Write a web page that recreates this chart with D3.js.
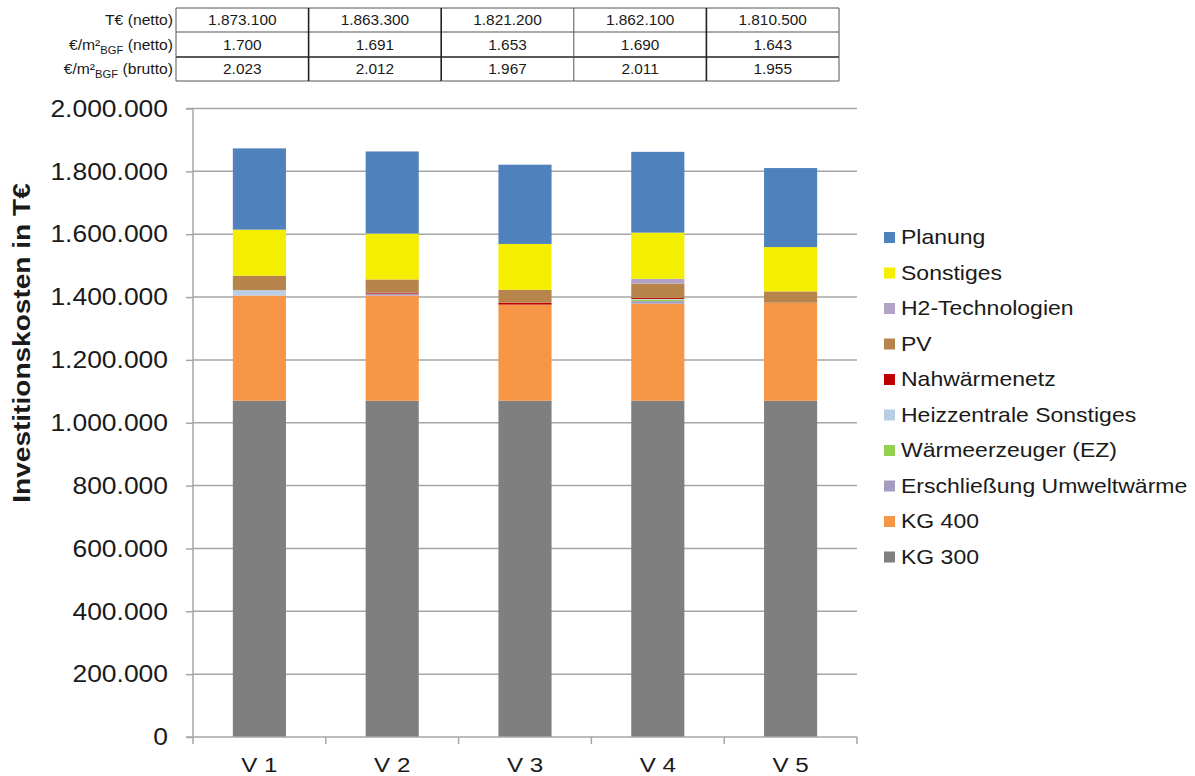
<!DOCTYPE html>
<html>
<head>
<meta charset="utf-8">
<script src="https://cdn.jsdelivr.net/npm/d3@7"></script>
<style>
  html, body { margin: 0; padding: 0; background: #fff; }
  svg { display: block; font-family: "Liberation Sans", Arial, sans-serif; }
</style>
</head>
<body>
<svg id="chart" width="1195" height="776"></svg>
<script>
// Variants
const categories = ["V 1", "V 2", "V 3", "V 4", "V 5"];

// Investment cost components in T€ (stacked bottom to top)
const kg300          = [1070000, 1070000, 1070000, 1070000, 1070000];
const kg400          = [ 335000,  335000,  306000,  309000,  312000];
const erschliessung  = [      0,    6000,       0,    8000,       0];
const waermeerzeuger = [      0,       0,       0,    5000,       0];
const heizzentrale   = [  17000,       0,       0,    2000,       0];
const nahwaermenetz  = [      0,    3000,    6000,    3000,       0];
const pv             = [  46000,   42000,   41000,   46000,   36000];
const h2             = [      0,       0,       0,   15000,       0];
const sonstiges      = [ 146500,  146000,  146000,  147000,  141000];
const planung        = [ 258600,  261300,  252200,  257100,  251500];

// Summary table rows
const rowLabels = ["T€ (netto)", "€/m²BGF (netto)", "€/m²BGF (brutto)"];
const totalNetto = ["1.873.100", "1.863.300", "1.821.200", "1.862.100", "1.810.500"];
const perM2Netto = ["1.700", "1.691", "1.653", "1.690", "1.643"];
const perM2Brutto = ["2.023", "2.012", "1.967", "2.011", "1.955"];

const yTicks = [0, 200000, 400000, 600000, 800000, 1000000, 1200000, 1400000, 1600000, 1800000, 2000000];

const series = [
  { name: "KG 300", values: kg300, color: "#7f7f7f" },
  { name: "KG 400", values: kg400, color: "#f79646" },
  { name: "Erschließung Umweltwärme", values: erschliessung, color: "#a69cc2" },
  { name: "Wärmeerzeuger (EZ)", values: waermeerzeuger, color: "#92d050" },
  { name: "Heizzentrale Sonstiges", values: heizzentrale, color: "#b9cde5" },
  { name: "Nahwärmenetz", values: nahwaermenetz, color: "#c00000" },
  { name: "PV", values: pv, color: "#b7844b" },
  { name: "H2-Technologien", values: h2, color: "#b3a2c7" },
  { name: "Sonstiges", values: sonstiges, color: "#f4ef00" },
  { name: "Planung", values: planung, color: "#4f81bd" }
];

const svg = d3.select("#chart");
const locale = d3.formatLocale({ decimal: ",", thousands: ".", grouping: [3], currency: ["", "€"] });
const fmt = locale.format(",d");

const plot = { left: 193, right: 857, top: 108.5, bottom: 737 };

const x = d3.scaleBand().domain(categories).range([plot.left, plot.right]).paddingInner(0.6).paddingOuter(0.3);
const y = d3.scaleLinear().domain([0, 2000000]).range([plot.bottom, plot.top]);

// Gridlines
svg.append("g").selectAll("line").data(yTicks.filter(d => d > 0)).join("line")
  .attr("x1", plot.left).attr("x2", plot.right)
  .attr("y1", d => y(d)).attr("y2", d => y(d))
  .attr("stroke", "#a6a6a6").attr("stroke-width", 1.5);

// Stacked bars
const table = categories.map((c, i) => {
  const row = { cat: c };
  series.forEach(s => row[s.name] = s.values[i]);
  return row;
});
const stack = d3.stack().keys(series.map(s => s.name));
const stacked = stack(table);

svg.append("g").selectAll("g").data(stacked).join("g")
  .attr("fill", (d, i) => series[i].color)
  .selectAll("rect").data(d => d).join("rect")
  .attr("x", d => x(d.data.cat))
  .attr("width", x.bandwidth())
  .attr("y", d => y(d[1]))
  .attr("height", d => Math.max(0, y(d[0]) - y(d[1])));

// Y axis
const yAxis = d3.axisLeft(y).tickValues(yTicks).tickSize(7).tickFormat(() => "");
const gy = svg.append("g").attr("transform", `translate(${plot.left},0)`).call(yAxis);
gy.select(".domain").attr("stroke", "#a6a6a6").attr("stroke-width", 1.5).attr("d", `M-7,${plot.top}H0V${plot.bottom}`);
gy.selectAll(".tick line").attr("stroke", "#a6a6a6").attr("stroke-width", 1.5);

svg.append("g").selectAll("text").data(yTicks).join("text")
  .attr("transform", d => `translate(168,${y(d)}) scale(1.15,1)`)
  .attr("text-anchor", "end").attr("dy", "0.36em")
  .attr("font-size", 23).attr("fill", "#1a1a1a")
  .text(d => fmt(d));

// X axis
const xAxis = d3.axisBottom(x).tickSize(0).tickFormat(() => "");
const gx = svg.append("g").attr("transform", `translate(0,${plot.bottom})`).call(xAxis);
gx.select(".domain").attr("stroke", "#a6a6a6").attr("stroke-width", 1.5).attr("d", `M${plot.left - 7},0H${plot.right}`);
const step = x.step();
const bounds = d3.range(categories.length + 1).map(i => plot.left + i * step);
svg.append("g").selectAll("line").data(bounds).join("line")
  .attr("x1", d => d).attr("x2", d => d)
  .attr("y1", plot.bottom).attr("y2", plot.bottom + 7)
  .attr("stroke", "#a6a6a6").attr("stroke-width", 1.5);

svg.append("g").selectAll("text").data(categories).join("text")
  .attr("transform", d => `translate(${x(d) + x.bandwidth() / 2},765) scale(1.15,1)`)
  .attr("text-anchor", "middle").attr("dy", "0.35em")
  .attr("font-size", 21).attr("fill", "#1a1a1a")
  .text(d => d);

// Y axis title
svg.append("text")
  .attr("transform", "translate(30,343) rotate(-90) scale(1.22,1)")
  .attr("text-anchor", "middle")
  .attr("font-size", 23).attr("font-weight", "bold").attr("fill", "#1a1a1a")
  .text("Investitionskosten  in T€");

// Legend (top to bottom: reverse stack order)
const legendItems = series.slice().reverse();
const lg = svg.append("g").selectAll("g").data(legendItems).join("g")
  .attr("transform", (d, i) => `translate(884,${237 + i * 35.5})`);
lg.append("rect").attr("x", 0).attr("y", -5).attr("width", 11).attr("height", 11).attr("fill", d => d.color);
lg.append("text").attr("transform", "translate(17,0) scale(1.15,1)")
  .attr("dy", "0.36em").attr("font-size", 20).attr("fill", "#1a1a1a")
  .text(d => d.name);

// Summary table above the chart
const tbl = { left: 176, colW: 132.6, rowY: [8, 32, 57, 81] };
const tg = svg.append("g");
const tableRows = [totalNetto, perM2Netto, perM2Brutto];
// horizontal lines
tg.selectAll("line.h").data(tbl.rowY).join("line").attr("class", "h")
  .attr("x1", tbl.left).attr("x2", tbl.left + 5 * tbl.colW)
  .attr("y1", d => d).attr("y2", d => d)
  .attr("stroke", (d, i) => i === 2 ? "#222" : "#555")
  .attr("stroke-width", (d, i) => i === 2 ? 1.6 : 1);
// vertical lines
tg.selectAll("line.v").data(d3.range(6)).join("line").attr("class", "v")
  .attr("x1", d => tbl.left + d * tbl.colW).attr("x2", d => tbl.left + d * tbl.colW)
  .attr("y1", tbl.rowY[0]).attr("y2", tbl.rowY[3])
  .attr("stroke", d => (d === 1 || d === 2 || d === 4) ? "#222" : "#555")
  .attr("stroke-width", d => (d === 1 || d === 2 || d === 4) ? 1.6 : 1);

tableRows.forEach((vals, r) => {
  const cy = (tbl.rowY[r] + tbl.rowY[r + 1]) / 2;
  tg.append("g").selectAll("text").data(vals).join("text")
    .attr("transform", (d, i) => `translate(${tbl.left + (i + 0.5) * tbl.colW},${cy}) scale(1.1,1)`)
    .attr("text-anchor", "middle").attr("dy", "0.36em")
    .attr("font-size", 14).attr("fill", "#1a1a1a")
    .text(d => d);
});

// Row labels with BGF subscript
rowLabels.forEach((lab, r) => {
  const cy = (tbl.rowY[r] + tbl.rowY[r + 1]) / 2;
  const t = tg.append("text")
    .attr("transform", `translate(173,${cy}) scale(1.12,1)`)
    .attr("text-anchor", "end").attr("dy", "0.36em")
    .attr("font-size", 14).attr("fill", "#1a1a1a");
  const m = lab.match(/^(.*m²)BGF(.*)$/);
  if (m) {
    t.append("tspan").text(m[1]);
    t.append("tspan").attr("font-size", 10).attr("dy", 4).text("BGF");
    t.append("tspan").attr("dy", -4).text(m[2]);
  } else {
    t.text(lab);
  }
});
</script>
</body>
</html>
